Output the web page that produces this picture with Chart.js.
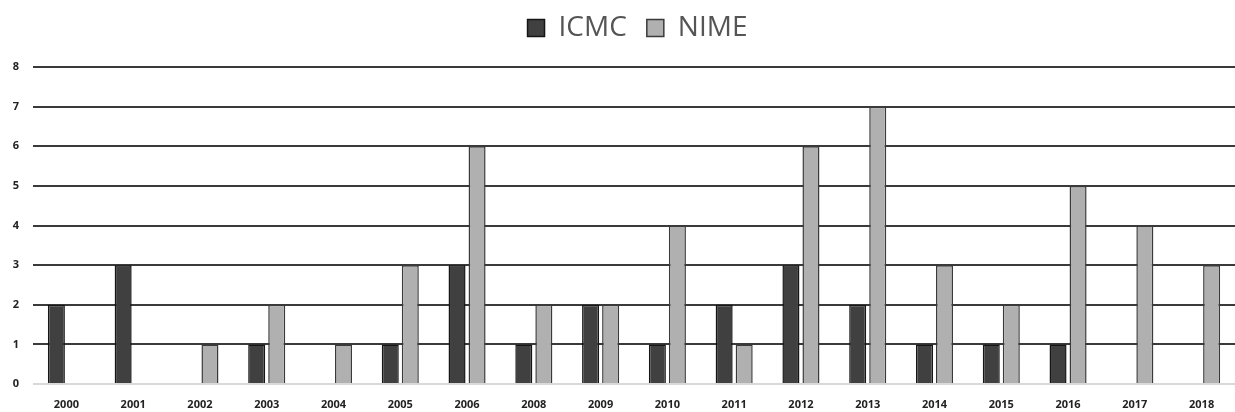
<!DOCTYPE html>
<html>
<head>
<meta charset="utf-8">
<script src="https://cdn.jsdelivr.net/npm/chart.js@4.4.1/dist/chart.umd.min.js"></script>
<style>
  html, body { margin: 0; padding: 0; background: #fff; }
  #wrap { width: 1235px; height: 412px; }
</style>
</head>
<body>
<div id="wrap"><canvas id="chart" width="1235" height="412"></canvas></div>
<script>
// values
const years = ["2000", "2001", "2002", "2003", "2004", "2005", "2006", "2008", "2009",
               "2010", "2011", "2012", "2013", "2014", "2015", "2016", "2017", "2018"];
const icmc = [2, 3, 0, 1, 0, 1, 3, 1, 2, 1, 2, 3, 2, 1, 1, 1, 0, 0];
const nime = [0, 0, 1, 2, 1, 3, 6, 2, 2, 4, 1, 6, 7, 3, 2, 5, 4, 3];
const yTicks = [0, 1, 2, 3, 4, 5, 6, 7, 8];

// extra room under the legend, and nudge it a bit right like the original
const legendGap = {
    id: "legendGap",
    beforeInit(chart) {
        const fit = chart.legend.fit;
        chart.legend.fit = function () {
            fit.bind(chart.legend)();
            this.height += 15;
        };
    },
    afterLayout(chart) {
        chart.legend.left += 18;
        chart.legend.right += 18;
    }
};

const ctx = document.getElementById("chart").getContext("2d");
new Chart(ctx, {
    type: "bar",
    data: {
        labels: years,
        datasets: [
            { label: "ICMC", data: icmc, backgroundColor: "#404040", borderColor: "#151515", borderWidth: 1.5,
              categoryPercentage: 0.6, barPercentage: 0.85 },
            { label: "NIME", data: nime, backgroundColor: "#b0b0b0", borderColor: "#3a3a3a", borderWidth: 1.5,
              categoryPercentage: 0.6, barPercentage: 0.85 }
        ]
    },
    plugins: [legendGap],
    options: {
        responsive: false,
        animation: false,
        devicePixelRatio: 1,
        layout: { padding: { top: -6, right: 0, bottom: 0, left: 4 } },
        plugins: {
            legend: {
                position: "top",
                labels: {
                    font: { family: "Open Sans", size: 28 },
                    color: "#555",
                    boxWidth: 17, boxHeight: 17,
                    padding: 20
                }
            },
            tooltip: { enabled: false }
        },
        scales: {
            x: {
                grid: { display: false },
                border: { display: false },
                afterFit: (axis) => { axis.height = 28; },
                ticks: { font: { family: "Open Sans", size: 11, weight: "bold" }, color: "#222", padding: 6, maxRotation: 0 }
            },
            y: {
                min: 0, max: 8,
                afterBuildTicks: (axis) => { axis.ticks = yTicks.map(v => ({ value: v })); },
                afterFit: (axis) => { axis.width = 29; },
                border: { display: false },
                grid: {
                    color: (c) => c.tick && c.tick.value === 0 ? "#d9d9d9" : "#3a3a3a",
                    lineWidth: 2,
                    drawTicks: false
                },
                ticks: { font: { family: "Open Sans", size: 11, weight: "bold" }, color: "#222", padding: 14 }
            }
        }
    }
});
</script>
</body>
</html>
